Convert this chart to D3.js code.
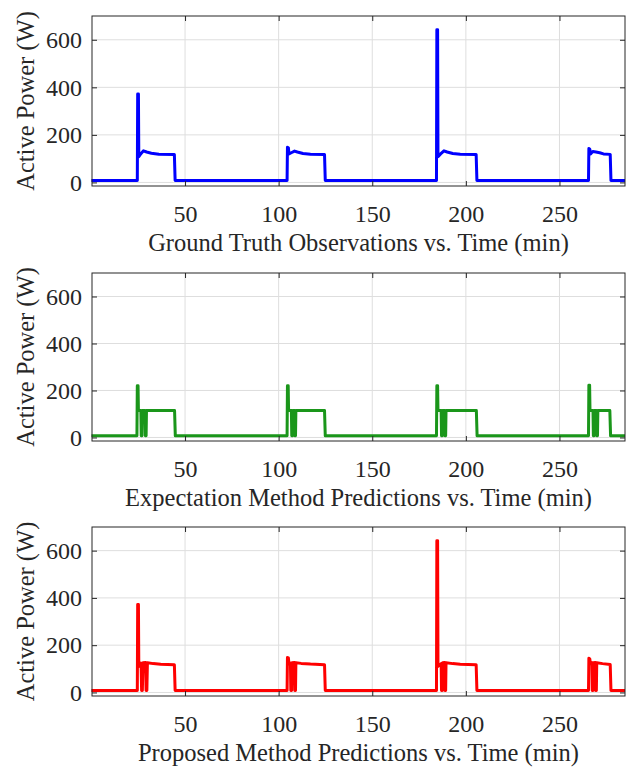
<!DOCTYPE html>
<html>
<head>
<meta charset="utf-8">
<script src="https://cdn.jsdelivr.net/npm/d3@7/dist/d3.min.js"></script>
<style>
  body{margin:0;background:#fff;}
  text{font-family:"Liberation Serif","Times New Roman",serif;fill:#262626;}
</style>
</head>
<body>
<svg id="chart" width="626" height="771"></svg>
<script>
var xTicks = [50,100,150,200,250];
var yTicks = [0,200,400,600];
var yLabel = 'Active Power (W)';
var xLabels = ['Ground Truth Observations vs. Time (min)',
               'Expectation Method Predictions vs. Time (min)',
               'Proposed Method Predictions vs. Time (min)'];

// [time (min), power (W)]
var groundTruth = [
  [0,8],[24.5,8],[24.7,372],[25.1,372],[25.3,108],[26.3,120],[27.8,133],[29.5,128],[32,123],[36,119],[44.3,117],[44.7,8],
  [104.5,8],[104.7,148],[105.2,146],[105.5,120],[107,126],[108.5,132],[110,128],[113,122],[117,119],[124.5,117],[124.9,8],
  [184.3,8],[184.5,642],[184.9,642],[185.1,108],[186.5,120],[188.3,133],[190,128],[193,122],[197,119],[205.5,117],[205.9,8],
  [265.5,8],[265.7,143],[266.2,140],[266.6,120],[267.8,130],[269.5,128],[271.5,125],[273.5,120],[277.1,118],[277.5,8],[285,8]
];
var expectation = [
  [0,7],[24.3,7],[24.5,220],[24.9,220],[25.1,115],[26.4,115],[26.6,7],[27,7],[27.2,115],[28.6,115],[28.8,7],[29.2,7],[29.4,115],[44.4,115],[44.8,7],
  [104.5,7],[104.7,220],[105.1,220],[105.3,115],[106.8,115],[107,7],[107.4,7],[107.6,115],[108.4,115],[108.6,7],[109,7],[109.2,115],[124.5,115],[124.9,7],
  [184.3,7],[184.5,220],[184.9,220],[185.1,115],[186.8,115],[187,7],[187.4,7],[187.6,115],[188.6,115],[188.8,7],[189.2,7],[189.4,115],[205.6,115],[206,7],
  [265.5,7],[265.7,222],[266.1,222],[266.3,115],[267.9,115],[268.1,7],[268.5,7],[268.7,115],[269.7,115],[269.9,7],[270.3,7],[270.5,115],[276.9,115],[277.3,7],[285,7]
];
var proposed = [
  [0,8],[24.5,8],[24.7,372],[25.1,372],[25.3,110],[26.5,124],[26.8,8],[27.2,8],[27.5,126],[28.9,127],[29.2,8],[29.6,8],[29.9,126],[33,122],[37,119],[44.3,117],[44.7,8],
  [104.5,8],[104.7,148],[105.2,146],[105.5,120],[106.3,124],[106.5,8],[106.9,8],[107.1,126],[108.4,127],[108.6,8],[109,8],[109.2,126],[112,123],[117,120],[124.5,117],[124.9,8],
  [184.3,8],[184.5,642],[184.9,642],[185.1,110],[186.8,122],[187,8],[187.4,8],[187.6,126],[188.6,127],[188.8,8],[189.2,8],[189.4,126],[193,122],[197,119],[205.5,117],[205.9,8],
  [265.5,8],[265.7,145],[266.2,142],[266.5,122],[267.3,126],[267.5,8],[267.9,8],[268.1,126],[269.1,127],[269.3,8],[269.7,8],[269.9,126],[273,122],[277.1,118],[277.5,8],[285,8]
];

var series = [groundTruth, expectation, proposed];
var colors = ['#0000ff','#1a961a','#ff0000'];

var left = 92, right = 625,
    tops = [16,273,527],
    heights = [170,168,169],
    fontSize = 24.5,
    tickFont = 24,
    serif = '"Liberation Serif","Times New Roman",serif',
    tickLen = 5;

var svg = d3.select('#chart');

var x = d3.scaleLinear().domain([0.3,285]).range([left,right]);

series.forEach(function(data,i){
  var y = d3.scaleLinear().domain([-15,700]).range([tops[i]+heights[i],tops[i]]);
  var g = svg.append('g').attr('class','panel');
  var bottom = tops[i]+heights[i];

  //grid
  g.selectAll('.vgrid').data(xTicks).enter().append('line')
    .attr('x1',function(d){return x(d);}).attr('x2',function(d){return x(d);})
    .attr('y1',tops[i]).attr('y2',bottom)
    .style('stroke','#dedede').style('stroke-width',1);
  g.selectAll('.hgrid').data(yTicks).enter().append('line')
    .attr('x1',left).attr('x2',right)
    .attr('y1',function(d){return y(d);}).attr('y2',function(d){return y(d);})
    .style('stroke','#dedede').style('stroke-width',1);

  //data line
  var line = d3.line().x(function(d){return x(d[0]);}).y(function(d){return y(d[1]);});
  g.append('path').datum(data)
    .attr('d',line)
    .style('fill','none').style('stroke',colors[i])
    .style('stroke-width',3).style('stroke-linejoin','round');

  //box and inward ticks
  g.append('rect')
    .attr('x',left).attr('y',tops[i]).attr('width',right-left).attr('height',heights[i])
    .style('fill','none').style('stroke','#262626').style('stroke-width',1);

  var axisB = d3.axisBottom(x).tickValues(xTicks).tickSize(-tickLen).tickSizeOuter(0).tickPadding(19);
  var axisT = d3.axisTop(x).tickValues(xTicks).tickSize(-tickLen).tickSizeOuter(0).tickFormat('');
  var axisL = d3.axisLeft(y).tickValues(yTicks).tickSize(-tickLen).tickSizeOuter(0).tickPadding(10);
  var axisR = d3.axisRight(y).tickValues(yTicks).tickSize(-tickLen).tickSizeOuter(0).tickFormat('');

  [[axisB,'translate(0,'+bottom+')'],[axisT,'translate(0,'+tops[i]+')'],
   [axisL,'translate('+left+',0)'],[axisR,'translate('+right+',0)']].forEach(function(a){
    var n = g.append('g').attr('transform',a[1]);
    a[0](n);
    n.attr('font-family',serif).attr('font-size',tickFont);
    n.select('.domain').remove();
    n.selectAll('line').style('stroke','#262626');
    n.selectAll('text').style('font-size',tickFont+'px').style('font-family',serif).style('fill','#262626');
  });

  //labels
  g.append('text')
    .attr('x',(left+right)/2).attr('y',bottom+65)
    .attr('text-anchor','middle')
    .style('font-size',fontSize+'px')
    .text(xLabels[i]);
  g.append('text')
    .attr('transform','translate(34,'+(tops[i]+heights[i]/2)+') rotate(-90)')
    .attr('text-anchor','middle')
    .style('font-size',fontSize+'px')
    .text(yLabel);
});
</script>
</body>
</html>
